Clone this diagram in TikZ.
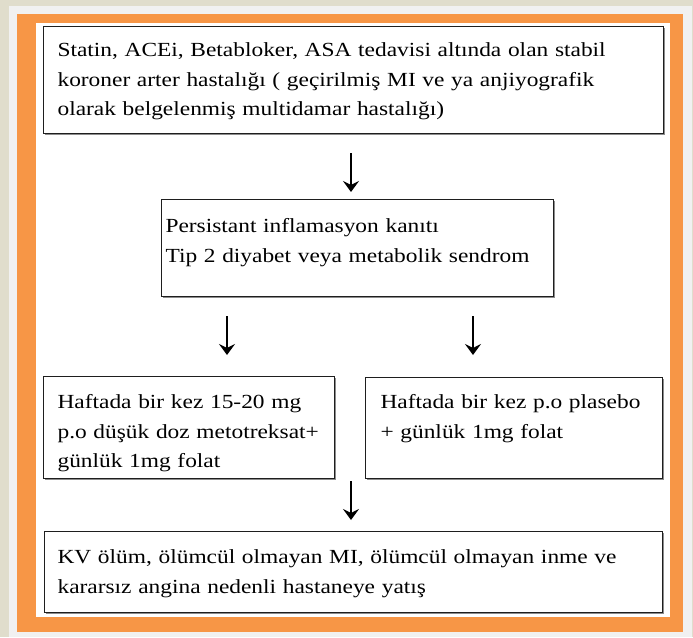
\documentclass[tikz,border=0pt]{standalone}
\usepackage{fontspec}
\setmainfont{Liberation Serif}[FakeStretch=1.17]
\usetikzlibrary{arrows.meta,shadows}
\definecolor{pagebg}{HTML}{E0DDCC}
\definecolor{framegray}{HTML}{F1F1F1}
\definecolor{frameorange}{HTML}{F79646}
\definecolor{boxline}{HTML}{1E1E1E}
\begin{document}
\begin{tikzpicture}[x=1pt,y=-1pt,
  box/.style={draw=boxline, line width=1.1pt, fill=white, anchor=north west,
    inner ysep=0pt, align=left,
    font=\fontsize{20}{29.5}\selectfont,
    drop shadow={shadow xshift=1.4pt, shadow yshift=-1.4pt, fill=black!45, opacity=1}},
  arr/.style={line width=1.5pt, -{Stealth[length=11pt,width=16pt,inset=4pt]}}]
\useasboundingbox (0,0) rectangle (693,637);
\fill[pagebg] (0,0) rectangle (693,637);
\fill[framegray] (9,6) rectangle (692,637);
\fill[frameorange] (17,14) rectangle (683,632);
\fill[white] (36,23) rectangle (670,617);

\node[box, inner xsep=14pt, text width=592pt, text height=30pt, text depth=77pt] (b1) at (43,26)
  {\mbox{Statin, ACEi, Betabloker, ASA tedavisi altında olan stabil}\\
   \mbox{koroner arter hastalığı ( geçirilmiş MI ve ya anjiyografik}\\
   \mbox{olarak belgelenmiş multidamar hastalığı)}};
\node[box, inner xsep=4pt, text width=384pt, text height=33pt, text depth=64pt] (b2) at (161,199)
  {\mbox{Persistant inflamasyon kanıtı}\\
   \mbox{Tip 2 diyabet veya metabolik sendrom}};
\node[box, inner xsep=14pt, text width=263pt, text height=32pt, text depth=70pt] (b3) at (43,376)
  {\mbox{Haftada bir kez 15-20 mg}\\
   \mbox{p.o düşük doz metotreksat+}\\
   \mbox{günlük 1mg folat}};
\node[box, inner xsep=15pt, text width=267pt, text height=31pt, text depth=70pt] (b4) at (365,377)
  {\mbox{Haftada bir kez p.o plasebo}\\
   \mbox{+ günlük 1mg folat}};
\node[box, inner xsep=13pt, text width=592pt, text height=32pt, text depth=49pt] (b5) at (44,531)
  {\mbox{KV ölüm, ölümcül olmayan MI, ölümcül olmayan inme ve}\\
   \mbox{kararsız angina nedenli hastaneye yatış}};

\coordinate (a1s) at (351,153);
\coordinate (a1e) at (351,192);
\coordinate (a2s) at (227,316);
\coordinate (a2e) at (227,355);
\coordinate (a3s) at (473,316);
\coordinate (a3e) at (473,355);
\coordinate (a4s) at (351,481);
\coordinate (a4e) at (351,520);
\draw[arr] (a1s) -- (a1e);
\draw[arr] (a2s) -- (a2e);
\draw[arr] (a3s) -- (a3e);
\draw[arr] (a4s) -- (a4e);
\end{tikzpicture}
\end{document}
